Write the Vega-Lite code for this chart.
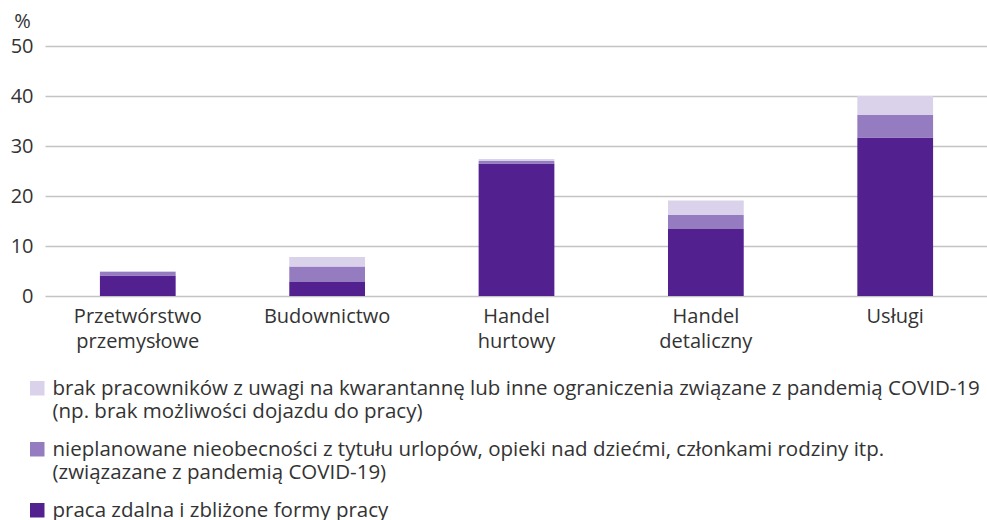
{
  "$schema": "https://vega.github.io/schema/vega-lite/v6.json",
  "autosize": "none",
  "width": 943,
  "height": 250,
  "padding": {"left": 45, "top": 46, "right": 0, "bottom": 224},
  "background": "white",
  "config": {
    "font": "Open Sans",
    "view": {"stroke": null},
    "axis": {"labelFont": "Open Sans", "labelColor": "#333333", "titleColor": "#333333", "titleFont": "Open Sans"},
    "legend": {"labelFont": "Open Sans", "labelColor": "#333333"}
  },
  "data": {
    "values": [
      {"kategoria": "Przetwórstwo przemysłowe", "seria": "praca zdalna i zbliżone formy pracy", "wartosc": 4.1, "ord": 1},
      {"kategoria": "Przetwórstwo przemysłowe", "seria": "nieplanowane nieobecności z tytułu urlopów, opieki nad dziećmi, członkami rodziny itp. (związazane z pandemią COVID-19)", "wartosc": 0.7, "ord": 2},
      {"kategoria": "Przetwórstwo przemysłowe", "seria": "brak pracowników z uwagi na kwarantannę lub inne ograniczenia związane z pandemią COVID-19 (np. brak możliwości dojazdu do pracy)", "wartosc": 0.2, "ord": 3},
      {"kategoria": "Budownictwo", "seria": "praca zdalna i zbliżone formy pracy", "wartosc": 2.8, "ord": 1},
      {"kategoria": "Budownictwo", "seria": "nieplanowane nieobecności z tytułu urlopów, opieki nad dziećmi, członkami rodziny itp. (związazane z pandemią COVID-19)", "wartosc": 3.1, "ord": 2},
      {"kategoria": "Budownictwo", "seria": "brak pracowników z uwagi na kwarantannę lub inne ograniczenia związane z pandemią COVID-19 (np. brak możliwości dojazdu do pracy)", "wartosc": 1.9, "ord": 3},
      {"kategoria": "Handel hurtowy", "seria": "praca zdalna i zbliżone formy pracy", "wartosc": 26.5, "ord": 1},
      {"kategoria": "Handel hurtowy", "seria": "nieplanowane nieobecności z tytułu urlopów, opieki nad dziećmi, członkami rodziny itp. (związazane z pandemią COVID-19)", "wartosc": 0.5, "ord": 2},
      {"kategoria": "Handel hurtowy", "seria": "brak pracowników z uwagi na kwarantannę lub inne ograniczenia związane z pandemią COVID-19 (np. brak możliwości dojazdu do pracy)", "wartosc": 0.4, "ord": 3},
      {"kategoria": "Handel detaliczny", "seria": "praca zdalna i zbliżone formy pracy", "wartosc": 13.4, "ord": 1},
      {"kategoria": "Handel detaliczny", "seria": "nieplanowane nieobecności z tytułu urlopów, opieki nad dziećmi, członkami rodziny itp. (związazane z pandemią COVID-19)", "wartosc": 2.8, "ord": 2},
      {"kategoria": "Handel detaliczny", "seria": "brak pracowników z uwagi na kwarantannę lub inne ograniczenia związane z pandemią COVID-19 (np. brak możliwości dojazdu do pracy)", "wartosc": 2.9, "ord": 3},
      {"kategoria": "Usługi", "seria": "praca zdalna i zbliżone formy pracy", "wartosc": 31.7, "ord": 1},
      {"kategoria": "Usługi", "seria": "nieplanowane nieobecności z tytułu urlopów, opieki nad dziećmi, członkami rodziny itp. (związazane z pandemią COVID-19)", "wartosc": 4.5, "ord": 2},
      {"kategoria": "Usługi", "seria": "brak pracowników z uwagi na kwarantannę lub inne ograniczenia związane z pandemią COVID-19 (np. brak możliwości dojazdu do pracy)", "wartosc": 3.8, "ord": 3}
    ]
  },
  "mark": {"type": "bar"},
  "encoding": {
    "x": {
      "field": "kategoria",
      "type": "nominal",
      "sort": null,
      "scale": {"paddingInner": 0.6, "paddingOuter": 0.29},
      "axis": {
        "title": null,
        "labelAngle": 0,
        "labelExpr": "split(datum.label, ' ')",
        "labelFontSize": 20,
        "labelLineHeight": 25,
        "labelPadding": 10,
        "ticks": false,
        "domain": false,
        "grid": false,
        "labelLimit": 300
      }
    },
    "y": {
      "field": "wartosc",
      "type": "quantitative",
      "stack": "zero",
      "scale": {"domain": [0, 50], "nice": false},
      "axis": {
        "values": [0, 10, 20, 30, 40, 50],
        "title": "%",
        "titleAngle": 0,
        "titleX": -23,
        "titleY": -19,
        "titleAlign": "center",
        "titleBaseline": "alphabetic",
        "titleFontSize": 20,
        "titleFontWeight": "normal",
        "labelFontSize": 20,
        "labelPadding": 12,
        "ticks": false,
        "domain": false,
        "grid": true,
        "gridColor": "#c4c4c4",
        "gridWidth": 1.5
      }
    },
    "color": {
      "field": "seria",
      "type": "nominal",
      "scale": {
        "domain": [
          "brak pracowników z uwagi na kwarantannę lub inne ograniczenia związane z pandemią COVID-19 (np. brak możliwości dojazdu do pracy)",
          "nieplanowane nieobecności z tytułu urlopów, opieki nad dziećmi, członkami rodziny itp. (związazane z pandemią COVID-19)",
          "praca zdalna i zbliżone formy pracy"
        ],
        "range": ["#dad1ea", "#957cc0", "#52218f"]
      },
      "legend": {
        "title": null,
        "orient": "none",
        "legendX": -18,
        "legendY": 332,
        "padding": 0,
        "direction": "vertical",
        "symbolType": "square",
        "symbolSize": 210,
        "symbolStrokeWidth": 0,
        "labelFontSize": 20.5,
        "labelLimit": 1000,
        "labelLineHeight": 25,
        "labelBaseline": "top",
        "labelExpr": "split(replace(datum.label, ' (', '\\n('), '\\n')",
        "rowPadding": 16,
        "labelOffset": 5,
        "encode": {"labels": {"update": {"dy": {"value": -9}}}}
      }
    },
    "order": {"field": "ord", "type": "quantitative"}
  }
}
